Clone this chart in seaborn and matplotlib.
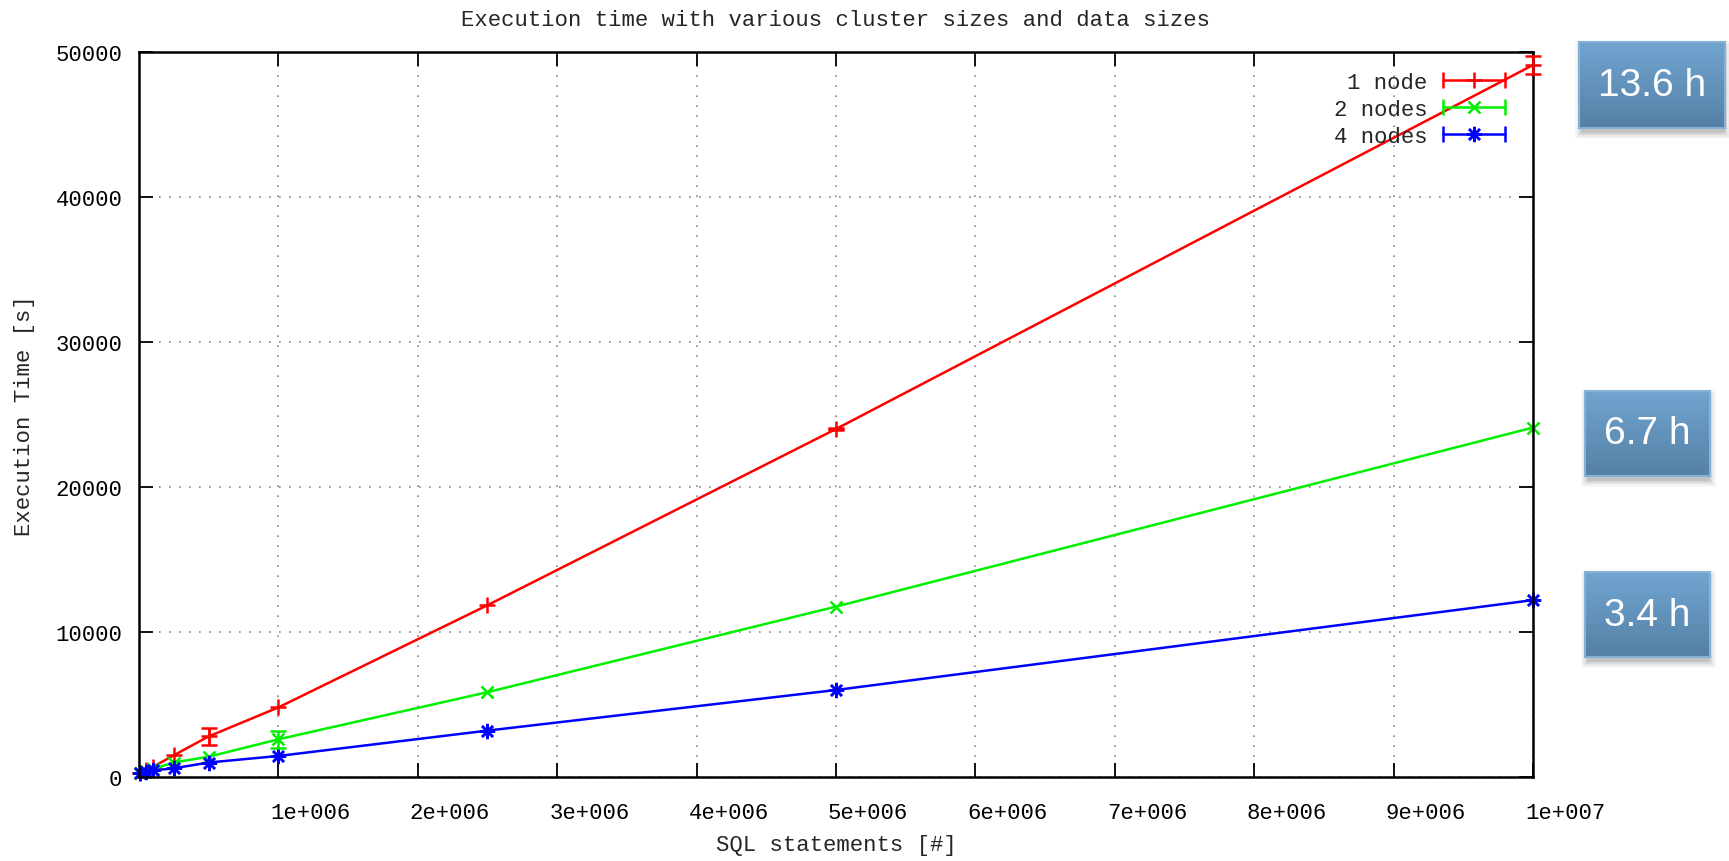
import numpy as np
import pandas as pd
import matplotlib
matplotlib.use("Agg")
import matplotlib.pyplot as plt
import matplotlib.transforms as mtransforms
from matplotlib.lines import Line2D
from matplotlib.patches import Rectangle
from matplotlib.colors import LinearSegmentedColormap
from matplotlib.legend_handler import HandlerLine2D, HandlerTuple
import seaborn as sns

# ---------------------------------------------------------------------------
# Data
# ---------------------------------------------------------------------------
sql_statements = [10000, 50000, 100000, 250000, 500000, 1000000, 2500000, 5000000, 10000000]
series_names = ["1 node", "2 nodes", "4 nodes"]
time_1node = [300, 500, 700, 1500, 2800, 4800, 11850, 24000, 49100]
time_2nodes = [300, 400, 550, 1000, 1400, 2600, 5850, 11750, 24100]
time_4nodes = [300, 350, 450, 600, 1000, 1450, 3200, 6000, 12200]
err_1node = [0, 0, 0, 0, 600, 0, 0, 60, 650]
err_2nodes = [0, 0, 0, 0, 0, 600, 0, 0, 0]
err_4nodes = [0, 0, 0, 0, 0, 0, 0, 0, 0]

x_ticks = [1e6, 2e6, 3e6, 4e6, 5e6, 6e6, 7e6, 8e6, 9e6, 1e7]
x_tick_labels = ["1e+006", "2e+006", "3e+006", "4e+006", "5e+006",
                 "6e+006", "7e+006", "8e+006", "9e+006", "1e+007"]
y_ticks = [0, 10000, 20000, 30000, 40000, 50000]

badge_labels = ["13.6 h", "6.7 h", "3.4 h"]

colors = {"1 node": "#ff0000", "2 nodes": "#00f000", "4 nodes": "#0000ff"}
markers = {"1 node": "+", "2 nodes": "x", "4 nodes": (8, 2, 0)}
msizes = {"1 node": 11, "2 nodes": 9, "4 nodes": 11}

df = pd.DataFrame({
    "SQL statements": sql_statements * 3,
    "Execution Time": time_1node + time_2nodes + time_4nodes,
    "err": err_1node + err_2nodes + err_4nodes,
    "series": sum([[s] * len(sql_statements) for s in series_names], []),
})

# ---------------------------------------------------------------------------
# Plot
# ---------------------------------------------------------------------------
sns.set_style("ticks")
plt.rcParams["font.family"] = ["Liberation Mono", "DejaVu Sans Mono"]
FS = 16

fig = plt.figure(figsize=(17.29, 8.62), dpi=100)
W, H = 1729, 862
ax = fig.add_axes([139 / W, 1 - 778 / H, (1533 - 139) / W, (778 - 53) / H])

sns.lineplot(data=df, x="SQL statements", y="Execution Time", hue="series",
             style="series", palette=colors, markers=markers, dashes=False,
             linewidth=1.8, legend=False, ax=ax, clip_on=False)

for line, name in zip(ax.lines, series_names):
    line.set_markeredgecolor(colors[name])
    line.set_markeredgewidth(1.8)
    line.set_markersize(msizes[name])

for name in series_names:
    sub = df[(df["series"] == name) & (df["err"] > 0)]
    if len(sub):
        ax.errorbar(sub["SQL statements"], sub["Execution Time"], yerr=sub["err"],
                    fmt="none", ecolor=colors[name], elinewidth=1.8, capsize=6,
                    capthick=1.8, clip_on=False, zorder=3)

ax.set_xlim(0, 1e7)
ax.set_ylim(0, 50000)
ax.set_xticks(x_ticks)
ax.set_xticklabels(x_tick_labels)
ax.set_yticks(y_ticks)
ax.set_yticklabels([str(v) for v in y_ticks])
ax.tick_params(direction="in", length=10, width=1.3, top=True, right=True,
               labelsize=FS, pad=12, colors="black")
ax.tick_params(axis="x", pad=18)
offset = mtransforms.ScaledTranslation(-8 / 100, 0, fig.dpi_scale_trans)
for lab in ax.get_xticklabels():
    lab.set_horizontalalignment("left")
    lab.set_transform(lab.get_transform() + offset)

ax.grid(True, linestyle=(0, (1, 5)), color="#888888", linewidth=1.2)
for sp in ax.spines.values():
    sp.set_linewidth(1.8)
    sp.set_color("black")

ax.set_xlabel("SQL statements [#]", fontsize=FS)
ax.set_ylabel("Execution Time [s]", fontsize=FS)
ax.xaxis.set_label_coords(0.5, (778 - 846) / 725)
ax.yaxis.set_label_coords((24 - 139) / 1394, 0.5)
ax.xaxis.label.set_verticalalignment("center")
ax.yaxis.label.set_verticalalignment("center")
ax.set_title("Execution time with various cluster sizes and data sizes",
             fontsize=FS, y=1 + (53 - 20) / 725, va="center", pad=0)

# gnuplot-style legend: text first, line sample with end caps and marker
handles, hmap = [], {}
for name in series_names:
    cap = Line2D([], [], color=colors[name], lw=1.8, marker="|",
                 markersize=12, markeredgewidth=1.8)
    mk = Line2D([], [], color=colors[name], ls="none", marker=markers[name],
                markersize=msizes[name], markeredgewidth=1.8,
                markeredgecolor=colors[name])
    h = (cap, mk)
    hmap[cap] = HandlerLine2D(numpoints=2)
    hmap[mk] = HandlerLine2D(numpoints=1)
    hmap[h] = HandlerTuple(ndivide=1)
    handles.append(h)
leg = ax.legend(handles, series_names, handler_map=hmap, markerfirst=False,
                frameon=False, loc="upper right", fontsize=FS,
                bbox_to_anchor=((1507 - 139) / 1394 + 0.01, 1 - (64 - 53) / 725),
                handlelength=3.4, handletextpad=0.4, labelspacing=0.27,
                borderaxespad=0)

# ---------------------------------------------------------------------------
# Hour badges on the right
# ---------------------------------------------------------------------------
badges = [(1579, 1725, 43, 129), (1585, 1710, 392, 477), (1585, 1710, 573, 658)]
grad = np.linspace(0, 1, 64).reshape(-1, 1)
bcmap = LinearSegmentedColormap.from_list("badge", ["#70a5d0", "#5580a6"])
for (x0, x1, y0, y1), text in zip(badges, badge_labels):
    for k, a in enumerate([0.10, 0.07, 0.05, 0.03]):
        d = 2 + k * 2
        fig.patches.append(Rectangle(((x0 - d + 4) / W, 1 - (y1 + d + 3) / H),
                                     (x1 - x0 + 2 * d - 6) / W, (y1 - y0 + 2 * d - 4) / H,
                                     transform=fig.transFigure, facecolor="black",
                                     edgecolor="none", alpha=a, zorder=-5))
    bax = fig.add_axes([x0 / W, 1 - y1 / H, (x1 - x0) / W, (y1 - y0) / H])
    bax.set_zorder(5)
    bax.imshow(grad, aspect="auto", cmap=bcmap, extent=(0, 1, 0, 1), origin="upper")
    bax.set_xticks([])
    bax.set_yticks([])
    for sp in bax.spines.values():
        sp.set_color("#86b0d6")
        sp.set_linewidth(1.5)
    bax.text(0.5, 0.5, text, color="white", ha="center", va="center",
             fontsize=28, family=["Liberation Sans", "DejaVu Sans"],
             transform=bax.transAxes)

fig.savefig("out.png", dpi=100)
